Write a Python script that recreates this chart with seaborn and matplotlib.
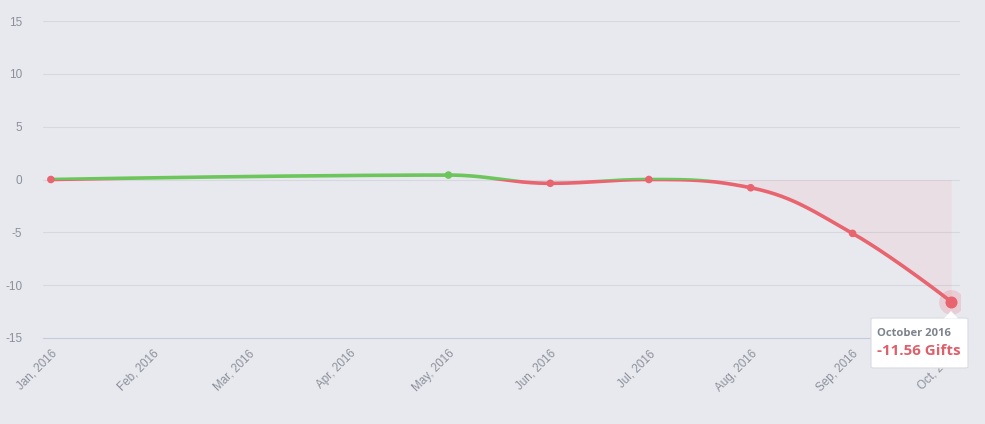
import numpy as np
import pandas as pd
import matplotlib
matplotlib.use("Agg")
import matplotlib.pyplot as plt
import matplotlib.dates as mdates
from matplotlib.patches import Rectangle, FancyBboxPatch, Polygon
import seaborn as sns

# data: months with a recorded value (Feb-Apr have none, line connects over them)
point_dates = ["2016-01-01", "2016-05-01", "2016-06-01", "2016-07-01",
               "2016-08-01", "2016-09-01", "2016-10-01"]
point_values = [0.0, 0.42, -0.36, 0.0, -0.78, -5.1, -11.56]
tick_months = pd.date_range("2016-01-01", "2016-10-01", freq="MS")
y_ticks = [-15, -10, -5, 0, 5, 10, 15]
tooltip_title = "October 2016"
tooltip_value = "-11.56 Gifts"

BG = "#e8e9ee"
GRID = "#d6d8df"
AXIS = "#c3cbdd"
LABEL = "#8b909b"
RED = "#e8646f"
GREEN = "#6cc65b"


def spline_path(xs, ys, smoothing=1.5, n=60):
    # highcharts-like spline control points
    denom = smoothing + 1
    m = len(xs)
    lc = [(x, y) for x, y in zip(xs, ys)]
    rc = [(x, y) for x, y in zip(xs, ys)]
    for i in range(1, m - 1):
        px, py = xs[i], ys[i]
        lx, ly = xs[i - 1], ys[i - 1]
        nx, ny = xs[i + 1], ys[i + 1]
        lcx = (smoothing * px + lx) / denom
        lcy = (smoothing * py + ly) / denom
        rcx = (smoothing * px + nx) / denom
        rcy = (smoothing * py + ny) / denom
        corr = 0
        if rcx != lcx:
            corr = ((rcy - lcy) * (rcx - px)) / (rcx - lcx) + py - rcy
        lcy += corr
        rcy += corr
        if lcy > ly and lcy > py:
            lcy = max(ly, py); rcy = 2 * py - lcy
        elif lcy < ly and lcy < py:
            lcy = min(ly, py); rcy = 2 * py - lcy
        if rcy > ny and rcy > py:
            rcy = max(ny, py); lcy = 2 * py - rcy
        elif rcy < ny and rcy < py:
            rcy = min(ny, py); lcy = 2 * py - rcy
        lc[i] = (lcx, lcy)
        rc[i] = (rcx, rcy)
    out_x, out_y = [], []
    t = np.linspace(0, 1, n)
    for i in range(m - 1):
        p0 = np.array([xs[i], ys[i]])
        p1 = np.array(rc[i])
        p2 = np.array(lc[i + 1])
        p3 = np.array([xs[i + 1], ys[i + 1]])
        b = ((1 - t) ** 3)[:, None] * p0 + (3 * (1 - t) ** 2 * t)[:, None] * p1 \
            + (3 * (1 - t) * t ** 2)[:, None] * p2 + (t ** 3)[:, None] * p3
        out_x.extend(b[:, 0]); out_y.extend(b[:, 1])
    return np.array(out_x), np.array(out_y)


px = mdates.date2num(pd.to_datetime(point_dates))
curve_x, curve_y = spline_path(list(px), point_values)

sns.set_theme(style="white", rc={"axes.facecolor": BG, "figure.facecolor": BG})
plt.rcParams["font.family"] = ["Liberation Sans", "DejaVu Sans"]
plt.rcParams["axes.unicode_minus"] = False

fig = plt.figure(figsize=(9.85, 4.24), dpi=100)
ax = fig.add_axes([43 / 985, 86 / 424, 917 / 985, 317 / 424])

x0 = mdates.date2num(pd.Timestamp("2016-01-01")) - 2.4
x1 = mdates.date2num(pd.Timestamp("2016-10-01")) + 2.7
ax.set_xlim(x0, x1)
ax.set_ylim(-15, 15)

for yv in y_ticks[1:]:
    ax.axhline(yv, color=GRID, lw=0.8, zorder=1)

# shaded area near the hovered point
fill_start = mdates.date2num(pd.Timestamp("2016-07-28"))
mask = curve_x >= fill_start
ax.fill_between(curve_x[mask], curve_y[mask], 0, color=RED, alpha=0.08, lw=0, zorder=1.5)

# the line, green above zero, red below
df = pd.DataFrame({"x": curve_x, "y": curve_y})
for col, clip in [(GREEN, (0, 15)), (RED, (-15, 0))]:
    sns.lineplot(data=df, x="x", y="y", sort=False, estimator=None, color=col,
                 lw=2.6, ax=ax, zorder=3)
    ln = ax.lines[-1]
    rect = Rectangle((x0, clip[0]), x1 - x0, clip[1] - clip[0], transform=ax.transData)
    ln.set_clip_path(rect)
    ln.set_solid_capstyle("round")

mcol = [GREEN if v > 0 else RED for v in point_values]
sns.scatterplot(x=px[:-1], y=point_values[:-1], color=mcol[:-1], s=30, edgecolor="none",
                ax=ax, zorder=4)
ax.scatter(px[-1:], point_values[-1:], s=320, color=RED, alpha=0.2, lw=0, zorder=4)
ax.scatter(px[-1:], point_values[-1:], s=75, color=RED, lw=0, zorder=5)

ax.set_xticks(mdates.date2num(tick_months))
ax.xaxis.set_major_formatter(mdates.DateFormatter("%b, %Y"))
ax.set_yticks(y_ticks)
ax.tick_params(axis="x", colors=AXIS, length=5, width=0.8, labelcolor=LABEL,
               labelsize=8.4, pad=2)
ax.tick_params(axis="y", length=0, labelcolor=LABEL, labelsize=8.5, pad=15)
for lab in ax.get_xticklabels():
    lab.set_rotation(45)
    lab.set_ha("right")
    lab.set_rotation_mode("anchor")
for side in ["top", "right", "left"]:
    ax.spines[side].set_visible(False)
ax.spines["bottom"].set_color(AXIS)
ax.spines["bottom"].set_linewidth(0.8)
ax.set_xlabel("")
ax.set_ylabel("")


# tooltip box (figure pixel coords)
def fx(x):
    return x / 985


def fy(y):
    return 1 - y / 424


box = FancyBboxPatch((fx(871), fy(368)), fx(968) - fx(871), fy(318) - fy(368),
                     boxstyle="round,pad=0,rounding_size=0.003", transform=fig.transFigure,
                     facecolor="white", edgecolor="#d9dbe1", lw=0.8, zorder=10)
fig.patches.append(box)
tri = Polygon([(fx(944), fy(318.5)), (fx(958), fy(318.5)), (fx(951), fy(311))],
              closed=True, transform=fig.transFigure, facecolor="white",
              edgecolor="none", zorder=11)
fig.patches.append(tri)
fig.text(fx(877), fy(333), tooltip_title, fontsize=8.1, fontweight="bold", color="#7d838e",
         family=["Open Sans", "DejaVu Sans"], va="center", ha="left", zorder=12)
fig.text(fx(877), fy(351), tooltip_value, fontsize=10.9, fontweight="bold", color="#df5f6a",
         family=["Open Sans", "DejaVu Sans"], va="center", ha="left", zorder=12)

fig.savefig("out.png", dpi=100, facecolor=BG)
